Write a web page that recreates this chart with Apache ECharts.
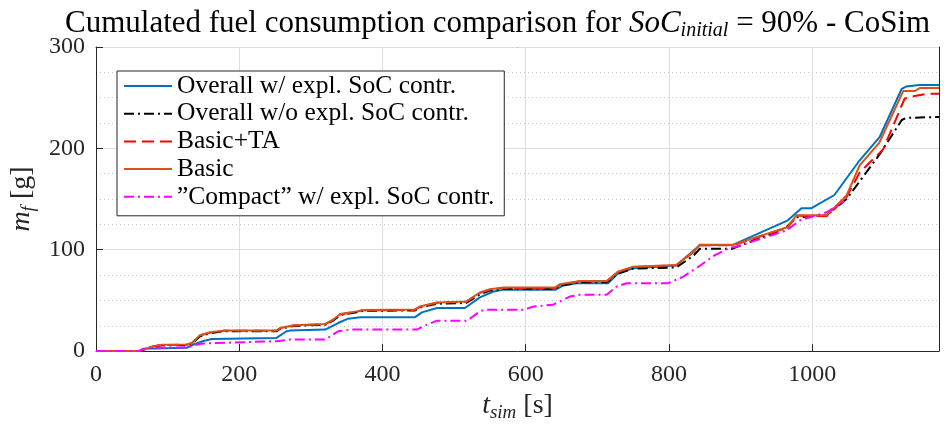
<!DOCTYPE html>
<html>
<head>
<meta charset="utf-8">
<script src="https://cdn.jsdelivr.net/npm/echarts@6/dist/echarts.min.js"></script>
<style>html,body{margin:0;padding:0;background:#fff;}#c{width:952px;height:427px;}</style>
</head>
<body>
<div id="c"></div>
<script>
// ---- data ----
var seriesNames = ['Overall w/ expl. SoC contr.', 'Overall w/o expl. SoC contr.', 'Basic+TA', 'Basic', '\u201DCompact\u201D w/ expl. SoC contr.'];
var xTicks = [0, 200, 400, 600, 800, 1000];
var yTicks = [0, 100, 200, 300];

var overallWith = [[0,0],[60,0],[66,2.3],[127,3.2],[136,6.5],[150,10],[162,12],[252,13],[266,19.6],[271,20.2],[320,21.2],[338,27.7],[352,32],[369,33.3],[445,33.3],[455,38.2],[476,42.5],[515,42.5],[536,53],[555,58.8],[568,60.4],[641,60.4],[652,64.7],[671,67],[715,67],[729,76.8],[750,81.7],[810,84.5],[843,104.5],[890,105],[966,129],[985,141],[999,141],[1031,154],[1066,188],[1094,211],[1125,258.8],[1131,261],[1150,262.5],[1177,262.5]];
var overallWithout = [[0,0],[60,0],[80,4.5],[92,5.8],[127,6],[134,7.5],[145,14.5],[160,17.8],[178,19.5],[252,19.5],[257,22],[276,24.8],[320,26],[331,30],[341,35.5],[364,38.3],[373,39.8],[445,40],[452,43],[476,46.7],[517,47.5],[536,56],[550,59.8],[569,61.4],[641,61.4],[648,64.5],[676,68],[713,68],[729,76.5],[750,81.5],[810,82.5],[834,94],[843,101],[888,101],[962,121],[978,132],[1020,134],[1048,150],[1094,194],[1125,228],[1131,230],[1177,231]];
var basicTA = [[0,0],[60,0],[80,4.7],[92,6],[127,6.3],[134,7.9],[145,15.3],[160,18.3],[178,20],[252,20],[257,22.5],[276,25.2],[320,26.5],[331,30.6],[341,36.2],[364,38.9],[373,40.2],[445,40.6],[452,43.6],[476,47.6],[517,48.6],[536,57.4],[550,60.6],[569,62.3],[641,62.3],[648,65.6],[676,68.8],[713,68.8],[729,78],[750,83],[810,84.7],[834,97.5],[843,104.5],[890,104.5],[966,122],[978,133.5],[1020,133],[1048,152],[1066,176],[1099,199],[1129,249],[1143,251.6],[1162,254],[1177,254]];
var basic = [[0,0],[60,0],[80,4.9],[92,6.2],[127,6.5],[134,8.1],[145,15.7],[160,18.6],[178,20.2],[252,20.2],[257,22.8],[276,25.5],[320,26.8],[331,31],[341,36.6],[364,39.2],[373,40.5],[445,41],[452,44],[476,48],[517,49],[536,57.8],[550,61],[569,62.7],[641,62.7],[648,66],[676,69.2],[713,69.2],[729,78.4],[750,83.3],[810,85],[834,98],[843,105],[890,105],[966,122.5],[978,134],[1020,134],[1048,153.5],[1066,183],[1094,206],[1127,256.5],[1143,256.5],[1150,259.5],[1177,259.5]];
var compact = [[0,0],[60,0],[66,2],[80,3.2],[129,3.9],[136,5.5],[146,7.2],[160,7.8],[252,9.8],[271,11.4],[320,11.4],[338,19.6],[355,21.2],[448,21.2],[457,24.5],[476,30],[518,30],[536,39.2],[543,40.8],[597,40.8],[611,44],[638,45.7],[662,53.9],[676,55.5],[713,55.5],[727,63.7],[741,67],[799,67],[820,73.5],[838,81.7],[864,94.7],[885,102],[894,103],[964,119],[983,129],[1020,137],[1038,145],[1045,148]];

var FONT = 'Liberation Serif';
var AX = '#262626';

var chart = echarts.init(document.getElementById('c'), null, {renderer: 'canvas'});

function mkSeries(name, data, color, dash, z) {
  return {
    name: name, type: 'line', data: data, xAxisIndex: 0, yAxisIndex: 0,
    symbol: 'none', showSymbol: false, smooth: false, z: z,
    lineStyle: {color: color, width: 2, type: dash},
    itemStyle: {color: color},
    emphasis: {disabled: true}
  };
}

var option = {
  animation: false,
  backgroundColor: '#fff',
  title: {
    left: 60, top: 1,
    text: 'Cumulated fuel consumption comparison for {it|SoC}{sub|initial}{n| = 90% - CoSim}',
    textStyle: {
      fontFamily: FONT, fontSize: 31, fontWeight: 'normal', color: '#000',
      rich: {
        it: {fontFamily: FONT, fontSize: 31, fontStyle: 'italic', color: '#000', lineHeight: 35, verticalAlign: 'middle'},
        sub: {fontFamily: FONT, fontSize: 20, fontStyle: 'italic', color: '#000', lineHeight: 12, verticalAlign: 'bottom'},
        n: {fontFamily: FONT, fontSize: 31, color: '#000', lineHeight: 35, verticalAlign: 'middle'}
      }
    }
  },
  legend: {
    orient: 'vertical', left: 117, top: 71,
    data: seriesNames,
    itemWidth: 48, itemHeight: 20, itemGap: 1.7,
    padding: [2, 10, 6, 6],
    backgroundColor: '#fff', borderColor: AX, borderWidth: 1,
    itemStyle: {opacity: 0},
    textStyle: {fontFamily: FONT, fontSize: 25.5, color: '#000'},
    selectedMode: false
  },
  grid: {left: 96, right: 13, top: 47, bottom: 74, containLabel: false},
  xAxis: [
    {
      type: 'value', min: 0, max: 1177, interval: 200, position: 'bottom', z: 2,
      name: '{it|t}{sub|sim}{n| [s]}', nameLocation: 'middle', nameGap: 36,
      nameTextStyle: {
        rich: {
          it: {fontFamily: FONT, fontSize: 28, fontStyle: 'italic', color: '#262626', lineHeight: 32, verticalAlign: 'middle'},
          sub: {fontFamily: FONT, fontSize: 19, fontStyle: 'italic', color: '#262626', lineHeight: 10, verticalAlign: 'bottom'},
          n: {fontFamily: FONT, fontSize: 28, color: '#262626', lineHeight: 32, verticalAlign: 'middle'}
        }
      },
      axisLine: {show: true, onZero: false, lineStyle: {color: AX, width: 1}},
      axisTick: {show: true, inside: true, length: 7, customValues: xTicks, lineStyle: {color: AX}},
      axisLabel: {show: true, customValues: xTicks, margin: 12, fontFamily: FONT, fontSize: 24, color: '#262626',
        formatter: function (v) { return String(v); }},
      splitLine: {show: true, lineStyle: {color: '#dedede', width: 1, type: 'solid'}}
    },
    {
      type: 'value', min: 0, max: 1177, interval: 40, position: 'top', z: 1,
      axisLine: {show: true, onZero: false, lineStyle: {color: AX, width: 1}},
      axisTick: {show: true, inside: true, length: 7, customValues: xTicks, lineStyle: {color: AX}},
      axisLabel: {show: false},
      splitLine: {show: true, lineStyle: {color: '#c4c4c4', width: 1, type: [1, 3]}}
    }
  ],
  yAxis: [
    {
      type: 'value', min: 0, max: 300, interval: 100, position: 'left', z: 2,
      name: '{it|m}{sub|f}{n| [g]}', nameLocation: 'middle', nameGap: 56, nameRotate: 90,
      nameTextStyle: {
        rich: {
          it: {fontFamily: FONT, fontSize: 28, fontStyle: 'italic', color: '#262626', lineHeight: 32, verticalAlign: 'middle'},
          sub: {fontFamily: FONT, fontSize: 19, fontStyle: 'italic', color: '#262626', lineHeight: 10, verticalAlign: 'bottom'},
          n: {fontFamily: FONT, fontSize: 28, color: '#262626', lineHeight: 32, verticalAlign: 'middle'}
        }
      },
      axisLine: {show: true, onZero: false, lineStyle: {color: AX, width: 1}},
      axisTick: {show: true, inside: true, length: 7, lineStyle: {color: AX}},
      axisLabel: {show: true, margin: 11, fontFamily: FONT, fontSize: 24, color: '#262626',
        formatter: function (v) { return String(v); }},
      splitLine: {show: true, lineStyle: {color: '#dedede', width: 1}},
      minorTick: {show: false, splitNumber: 4},
      minorSplitLine: {show: true, lineStyle: {color: '#c4c4c4', width: 1, type: [1, 3]}}
    },
    {
      type: 'value', min: 0, max: 300, interval: 100, position: 'right',
      axisLine: {show: true, onZero: false, lineStyle: {color: AX, width: 1}},
      axisTick: {show: true, inside: true, length: 7, lineStyle: {color: AX}},
      axisLabel: {show: false},
      splitLine: {show: false}
    }
  ],
  series: [
    mkSeries(seriesNames[0], overallWith, '#0072BD', 'solid', 2),
    mkSeries(seriesNames[1], overallWithout, '#000000', [10, 4, 2, 4], 3),
    mkSeries(seriesNames[2], basicTA, '#FF0000', [12, 6], 4),
    mkSeries(seriesNames[3], basic, '#D95319', 'solid', 5),
    mkSeries(seriesNames[4], compact, '#FF00FF', [10, 4, 2, 4], 6)
  ]
};
chart.setOption(option);
</script>
</body>
</html>
